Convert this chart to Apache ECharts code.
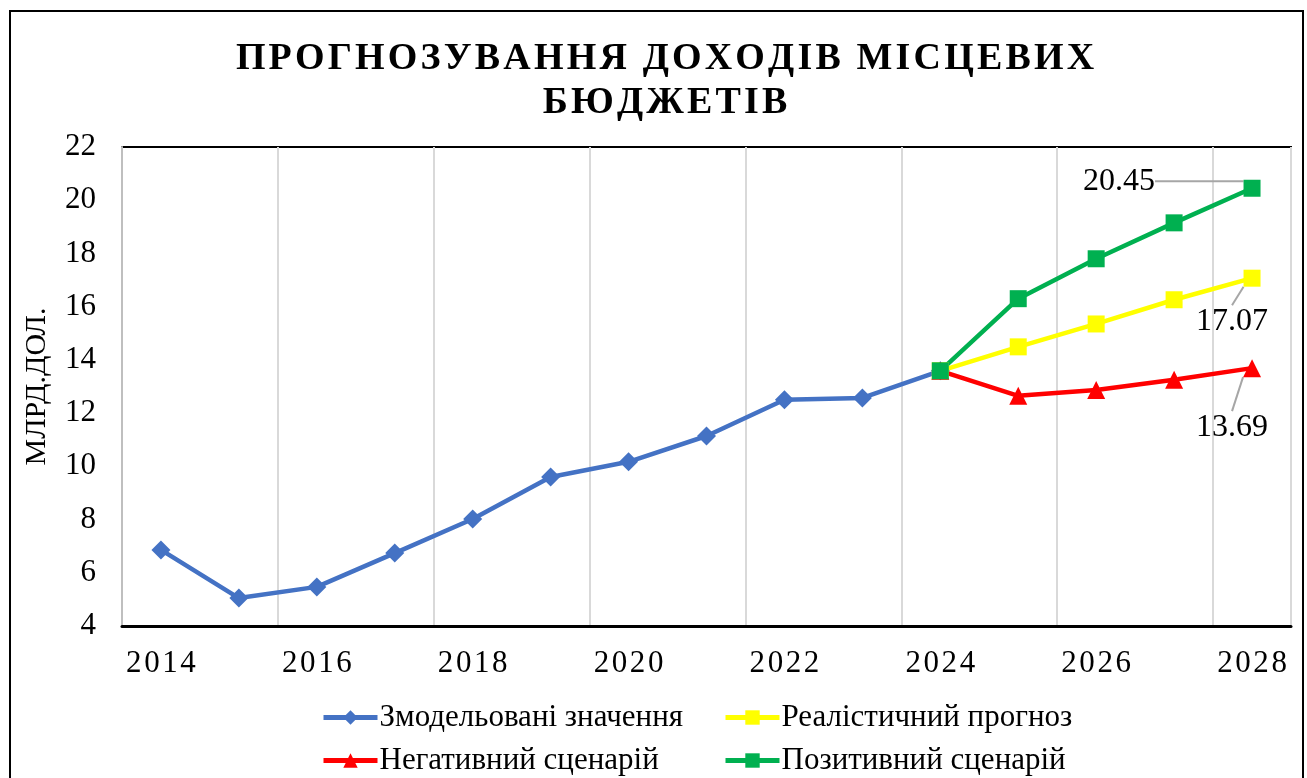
<!DOCTYPE html>
<html>
<head>
<meta charset="utf-8">
<script src="https://cdn.jsdelivr.net/npm/echarts@6/dist/echarts.min.js"></script>
<style>
  html, body { margin: 0; padding: 0; background: #fff; }
  #chart { width: 1307px; height: 778px; }
</style>
</head>
<body>
<div id="chart"></div>
<script>
const years = ['2014','2015','2016','2017','2018','2019','2020','2021','2022','2023','2024','2025','2026','2027','2028']
const modelled = [6.86, 5.05, 5.47, 6.74, 8.02, 9.6, 10.17, 11.14, 12.5, 12.57, 13.59, null, null, null, null]
const realistic = [null, null, null, null, null, null, null, null, null, null, 13.59, 14.49, 15.35, 16.26, 17.07]
const negative = [null, null, null, null, null, null, null, null, null, null, 13.59, 12.65, 12.87, 13.25, 13.69]
const positive = [null, null, null, null, null, null, null, null, null, null, 13.59, 16.3, 17.8, 19.15, 20.45]

const font = "'Liberation Serif', 'Times New Roman', serif"
const HAIR = '\u200A'

// spread letters a little, the source uses expanded character spacing
function spaced (s) {
  return s.split('\n').map(line => line.split('').join(HAIR)).join('\n')
}

function endLabel (dx, dy) {
  return {
    label: {
      show: true, position: 'inside', fontSize: 32, fontFamily: font, color: '#000',
      formatter: p => p.dataIndex === years.length - 1 ? p.value.toFixed(2) : ''
    },
    labelLayout: p => (p.dataIndex === years.length - 1 ? { dx: dx, dy: dy } : {}),
    labelLine: { show: true, lineStyle: { color: '#a6a6a6', width: 2 } }
  }
}

const chart = echarts.init(document.getElementById('chart'))

function legendAt (name, left, top) {
  return {
    data: [name],
    left: left,
    top: top,
    itemWidth: 54,
    itemHeight: 18,
    itemGap: 0,
    lineStyle: { width: 5 },
    textStyle: { fontSize: 31, fontFamily: font, color: '#000', padding: [0, 0, 0, -3] }
  }
}

chart.setOption({
  animation: false,
  graphic: [{
    type: 'rect',
    shape: { x: 10, y: 11, width: 1293, height: 800 },
    style: { fill: 'none', stroke: '#000', lineWidth: 2 },
    silent: true
  }],
  title: {
    text: spaced('ПРОГНОЗУВАННЯ ДОХОДІВ МІСЦЕВИХ\nБЮДЖЕТІВ'),
    left: 660,
    textAlign: 'center',
    top: 32,
    textStyle: { fontSize: 38, fontWeight: 'bold', fontFamily: font, color: '#000', lineHeight: 44 }
  },
  legend: [
    legendAt('Змодельовані значення', 316, 697),
    legendAt('Реалістичний прогноз', 718, 697),
    legendAt('Негативний сценарій', 316, 740),
    legendAt('Позитивний сценарій', 718, 740)
  ],
  grid: {
    left: 122, right: 16, top: 147, bottom: 152,
    show: true, borderColor: '#000', borderWidth: 2
  },
  xAxis: {
    type: 'category',
    data: years,
    boundaryGap: true,
    axisTick: { show: false },
    axisLine: { lineStyle: { color: '#000', width: 3 } },
    axisLabel: {
      interval: 1, margin: 22, fontSize: 31, fontFamily: font, color: '#000',
      formatter: v => spaced(v)
    },
    splitLine: { show: true, interval: 1, lineStyle: { color: '#d9d9d9', width: 2 } }
  },
  yAxis: {
    type: 'value',
    min: 4, max: 22, interval: 2,
    name: 'МЛРД.ДОЛ.',
    nameLocation: 'middle',
    nameGap: 70,
    nameTextStyle: { fontSize: 30, fontFamily: font, color: '#000' },
    axisLine: { show: true, lineStyle: { color: '#bfbfbf', width: 2 } },
    axisTick: { show: false },
    axisLabel: { margin: 26, fontSize: 31, fontFamily: font, color: '#000' },
    splitLine: { show: false }
  },
  series: [
    {
      name: 'Змодельовані значення', type: 'line', data: modelled,
      symbol: 'diamond', symbolSize: 19,
      itemStyle: { color: '#4472C4' }, lineStyle: { color: '#4472C4', width: 4.5 }
    },
    Object.assign({
      name: 'Реалістичний прогноз', type: 'line', data: realistic,
      symbol: 'rect', symbolSize: 17,
      itemStyle: { color: '#FFFF00' }, lineStyle: { color: '#FFFF00', width: 4.5 }
    }, endLabel(-20, 43)),
    Object.assign({
      name: 'Негативний сценарій', type: 'line', data: negative,
      symbol: 'triangle', symbolSize: 18,
      itemStyle: { color: '#FF0000' }, lineStyle: { color: '#FF0000', width: 4.5 }
    }, endLabel(-20, 59)),
    Object.assign({
      name: 'Позитивний сценарій', type: 'line', data: positive,
      symbol: 'rect', symbolSize: 17,
      itemStyle: { color: '#00B050' }, lineStyle: { color: '#00B050', width: 4.5 }
    }, endLabel(-133, -7))
  ]
})
</script>
</body>
</html>
